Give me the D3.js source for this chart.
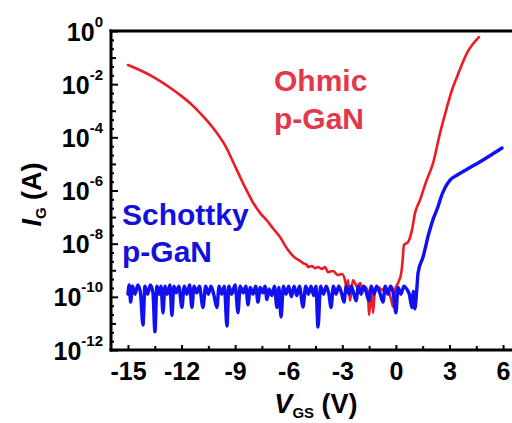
<!DOCTYPE html>
<html>
<head>
<meta charset="utf-8">
<script src="https://cdn.jsdelivr.net/npm/d3@7"></script>
<style>
  html, body { margin: 0; padding: 0; background: #fff; }
  svg { display: block; font-family: "Liberation Sans", Arial, sans-serif; font-weight: bold; }
</style>
</head>
<body>
<svg id="chart" width="512" height="423"></svg>
<script>
// Gate current vs gate voltage, [V_GS (V), log10(I_G / A)]
const ohmicPGaN = [
  [-15.0,-1.28],[-14.5,-1.42],[-14.0,-1.58],[-13.5,-1.76],[-13.0,-1.97],[-12.5,-2.2],
  [-12.0,-2.45],[-11.5,-2.73],[-11.0,-3.06],[-10.5,-3.43],[-10.0,-3.86],[-9.5,-4.38],
  [-9.12,-4.92],[-8.56,-5.72],[-8.0,-6.45],[-7.6,-6.85],[-7.22,-7.13],[-6.85,-7.45],
  [-6.49,-7.75],[-6.04,-8.24],[-5.7,-8.5],[-5.43,-8.62],[-5.2,-8.73],[-4.98,-8.80],
  [-4.92,-8.88],[-4.70,-8.84],[-4.53,-8.92],[-4.36,-8.88],[-4.14,-8.95],[-3.97,-8.88],
  [-3.80,-9.07],[-3.52,-9.03],[-3.24,-9.18],[-3.02,-9.14],[-2.85,-9.37],[-2.74,-9.74],
  [-2.68,-9.37],[-2.57,-10.15],[-2.40,-9.37],[-2.29,-9.48],[-2.18,-9.63],[-2.01,-9.48],
  [-1.84,-9.74],[-1.73,-9.63],[-1.56,-9.82],[-1.51,-10.68],[-1.39,-9.74],[-1.28,-10.61],
  [-1.17,-9.74],[-1.0,-9.63],[-0.78,-9.74],[-0.61,-9.67],[-0.44,-9.74],[-0.22,-10.23],
  [-0.16,-10.38],[-0.05,-9.74],[0.12,-9.48],[0.3,-9.1],[0.38,-8.6],[0.45,-8.05],
  [0.68,-7.94],[0.9,-7.49],[1.07,-6.85],[1.35,-6.36],[1.7,-5.65],[2.08,-4.97],
  [2.47,-3.84],[2.86,-2.86],[3.15,-2.2],[3.42,-1.73],[3.7,-1.25],[3.98,-0.83],
  [4.3,-0.5],[4.65,-0.23]
];

const schottkyPGaN = [
  [-15.0,-9.9],[-14.93,-9.55],[-14.85,-10.2],[-14.75,-9.6],[-14.6,-9.9],[-14.45,-9.55],
  [-14.3,-9.85],[-14.16,-11.06],[-14.05,-9.6],[-13.9,-9.9],[-13.75,-9.55],[-13.6,-9.85],
  [-13.49,-11.32],[-13.38,-9.6],[-13.25,-9.9],[-13.15,-9.6],[-13.04,-10.6],[-12.93,-9.6],
  [-12.8,-9.9],[-12.65,-9.55],[-12.54,-10.7],[-12.43,-9.6],[-12.3,-9.85],[-12.15,-9.6],
  [-11.98,-10.4],[-11.85,-9.6],[-11.7,-9.9],[-11.55,-9.55],[-11.42,-10.4],[-11.3,-9.6],
  [-11.15,-9.85],[-11.0,-9.6],[-10.8,-10.4],[-10.65,-9.6],[-10.5,-9.9],[-10.35,-9.6],
  [-10.2,-9.9],[-10.02,-10.4],[-9.9,-9.6],[-9.75,-9.9],[-9.6,-9.6],[-9.46,-11.1],
  [-9.35,-9.6],[-9.2,-9.9],[-9.0,-9.55],[-8.84,-10.6],[-8.72,-9.6],[-8.55,-9.85],
  [-8.4,-9.6],[-8.28,-10.3],[-8.15,-9.65],[-8.0,-9.9],[-7.85,-9.6],[-7.72,-10.2],
  [-7.6,-9.65],[-7.45,-9.85],[-7.33,-9.6],[-7.22,-10.1],[-7.1,-9.7],[-6.95,-9.95],
  [-6.8,-9.6],[-6.66,-10.4],[-6.55,-9.65],[-6.43,-10.76],[-6.3,-9.6],[-6.15,-9.9],
  [-6.0,-9.6],[-5.85,-10.0],[-5.7,-9.6],[-5.55,-9.95],[-5.4,-9.6],[-5.2,-10.38],
  [-5.05,-9.6],[-4.9,-9.9],[-4.75,-9.6],[-4.6,-9.95],[-4.48,-9.6],[-4.36,-11.14],
  [-4.22,-9.6],[-4.05,-9.9],[-3.9,-9.6],[-3.75,-9.9],[-3.63,-10.4],[-3.5,-9.6],
  [-3.35,-9.9],[-3.2,-9.6],[-3.05,-9.85],[-2.91,-10.2],[-2.78,-9.6],[-2.62,-9.9],
  [-2.5,-9.6],[-2.37,-9.85],[-2.23,-10.15],[-2.1,-9.6],[-1.95,-9.9],[-1.8,-9.6],
  [-1.65,-9.85],[-1.51,-10.15],[-1.38,-9.6],[-1.22,-9.9],[-1.08,-9.6],[-0.9,-9.85],
  [-0.72,-10.2],[-0.6,-9.6],[-0.45,-9.9],[-0.3,-9.6],[-0.15,-9.85],[0.0,-10.6],
  [0.12,-9.65],[0.28,-9.9],[0.45,-9.6],[0.6,-9.7],[0.75,-9.9],[0.9,-10.4],
  [0.98,-9.8],[1.06,-10.45],[1.18,-9.63],[1.24,-9.1],[1.52,-8.5],[1.85,-7.6],
  [2.1,-7.05],[2.36,-6.6],[2.5,-6.3],[2.75,-5.9],[3.03,-5.61],[3.48,-5.4],
  [3.98,-5.2],[4.88,-4.85],[5.94,-4.4]
];

const xMajorTicks = [-15, -12, -9, -6, -3, 0, 3, 6];
const xMinorTicks = [-13.5, -10.5, -7.5, -4.5, -1.5, 1.5, 4.5];
const yLabelExponents = [0, -2, -4, -6, -8, -10, -12];
const yOddExponents = [-1, -3, -5, -7, -9, -11];

const svg = d3.select("#chart");
const plot = { left: 111, right: 512, top: 31, bottom: 350 };

const x = d3.scaleLinear().domain([-15.95, 6.5]).range([plot.left, plot.right]);
const y = d3.scaleLog().domain([1e-12, 1]).range([plot.bottom, plot.top]);

svg.append("defs").append("clipPath").attr("id", "plotClip")
  .append("rect")
  .attr("x", plot.left).attr("y", plot.top)
  .attr("width", plot.right - plot.left).attr("height", plot.bottom - plot.top);

// minor y ticks at thirds of each decade
const yThirds = [];
for (let e = -12; e < 0; e++) {
  yThirds.push(Math.pow(10, e + 1 / 3), Math.pow(10, e + 2 / 3));
}

function styleTicks(g, w) {
  g.select(".domain").remove();
  g.selectAll(".tick line").attr("stroke", "#000").attr("stroke-width", w);
}

// x ticks (inward)
svg.append("g").attr("transform", `translate(0,${plot.bottom})`)
  .call(d3.axisBottom(x).tickValues(xMinorTicks).tickSize(-4).tickFormat(""))
  .call(g => styleTicks(g, 2));
const xAxis = svg.append("g").attr("transform", `translate(0,${plot.bottom})`)
  .call(d3.axisBottom(x).tickValues(xMajorTicks).tickSize(-5).tickPadding(12)
    .tickFormat(d => String(d)))
  .call(g => styleTicks(g, 2));
xAxis.selectAll(".tick text")
  .attr("font-size", 25).attr("font-weight", "bold")
  .attr("font-family", "'Liberation Sans', Arial, sans-serif").attr("fill", "#000");

// y ticks (inward)
svg.append("g").attr("transform", `translate(${plot.left},0)`)
  .call(d3.axisLeft(y).tickValues(yThirds).tickSize(-3).tickFormat(""))
  .call(g => styleTicks(g, 2));
svg.append("g").attr("transform", `translate(${plot.left},0)`)
  .call(d3.axisLeft(y).tickValues(yOddExponents.map(e => Math.pow(10, e))).tickSize(-5).tickFormat(""))
  .call(g => styleTicks(g, 2));
const yAxis = svg.append("g").attr("transform", `translate(${plot.left},0)`)
  .call(d3.axisLeft(y).tickValues(yLabelExponents.map(e => Math.pow(10, e))).tickSize(-7).tickFormat(""))
  .call(g => styleTicks(g, 2));
yAxis.selectAll(".tick text").remove();
yAxis.selectAll(".tick").each(function (d) {
  const exp = Math.round(Math.log10(d));
  const t = d3.select(this).append("text")
    .attr("x", -8).attr("y", 9)
    .attr("text-anchor", "end")
    .attr("fill", "#000")
    .attr("font-size", 25);
  t.append("tspan").text("10");
  t.append("tspan").attr("font-size", 15).attr("dy", -14).text(String(exp));
});

// frame
const frame = svg.append("g").attr("stroke", "#000").attr("stroke-width", 3)
  .attr("stroke-linecap", "square");
frame.append("line").attr("x1", plot.left).attr("x2", plot.left)
  .attr("y1", plot.top).attr("y2", plot.bottom);
frame.append("line").attr("x1", plot.left).attr("x2", plot.right + 5)
  .attr("y1", plot.bottom).attr("y2", plot.bottom);
frame.append("line").attr("x1", plot.left).attr("x2", plot.right + 5)
  .attr("y1", plot.top).attr("y2", plot.top);

// curves
const line = d3.line()
  .x(d => x(d[0]))
  .y(d => y(Math.pow(10, d[1])))
  .curve(d3.curveMonotoneX);

const curves = svg.append("g").attr("clip-path", "url(#plotClip)").attr("fill", "none")
  .attr("stroke-linejoin", "round").attr("stroke-linecap", "round");
curves.append("path").datum(ohmicPGaN)
  .attr("d", line).attr("stroke", "#ec1c24").attr("stroke-width", 2.6);
curves.append("path").datum(schottkyPGaN)
  .attr("d", line).attr("stroke", "#1010f0").attr("stroke-width", 3.4);

// curve labels
const ohmicLabel = svg.append("text").attr("fill", "#e2384a").attr("font-size", 30);
ohmicLabel.append("tspan").attr("x", 274).attr("y", 91).text("Ohmic");
ohmicLabel.append("tspan").attr("x", 274).attr("y", 129).text("p-GaN");

const schottkyLabel = svg.append("text").attr("fill", "#1212dc").attr("font-size", 30);
schottkyLabel.append("tspan").attr("x", 122).attr("y", 225).text("Schottky");
schottkyLabel.append("tspan").attr("x", 122).attr("y", 262).text("p-GaN");

// axis titles
const xTitle = svg.append("text")
  .attr("x", (x(-15.95) + x(7)) / 2).attr("y", 413)
  .attr("text-anchor", "middle").attr("font-size", 27).attr("fill", "#000");
xTitle.append("tspan").attr("font-style", "italic").text("V");
xTitle.append("tspan").attr("font-size", 15).attr("dy", 5).text("GS");
xTitle.append("tspan").attr("dy", -5).text(" (V)");

const yTitle = svg.append("text")
  .attr("transform", `translate(41,${(plot.top + plot.bottom) / 2 + 4}) rotate(-90)`)
  .attr("text-anchor", "middle").attr("font-size", 27).attr("fill", "#000");
yTitle.append("tspan").attr("font-style", "italic").text("I");
yTitle.append("tspan").attr("font-size", 15).attr("dy", 5).text("G");
yTitle.append("tspan").attr("dy", -5).text(" (A)");
</script>
</body>
</html>
